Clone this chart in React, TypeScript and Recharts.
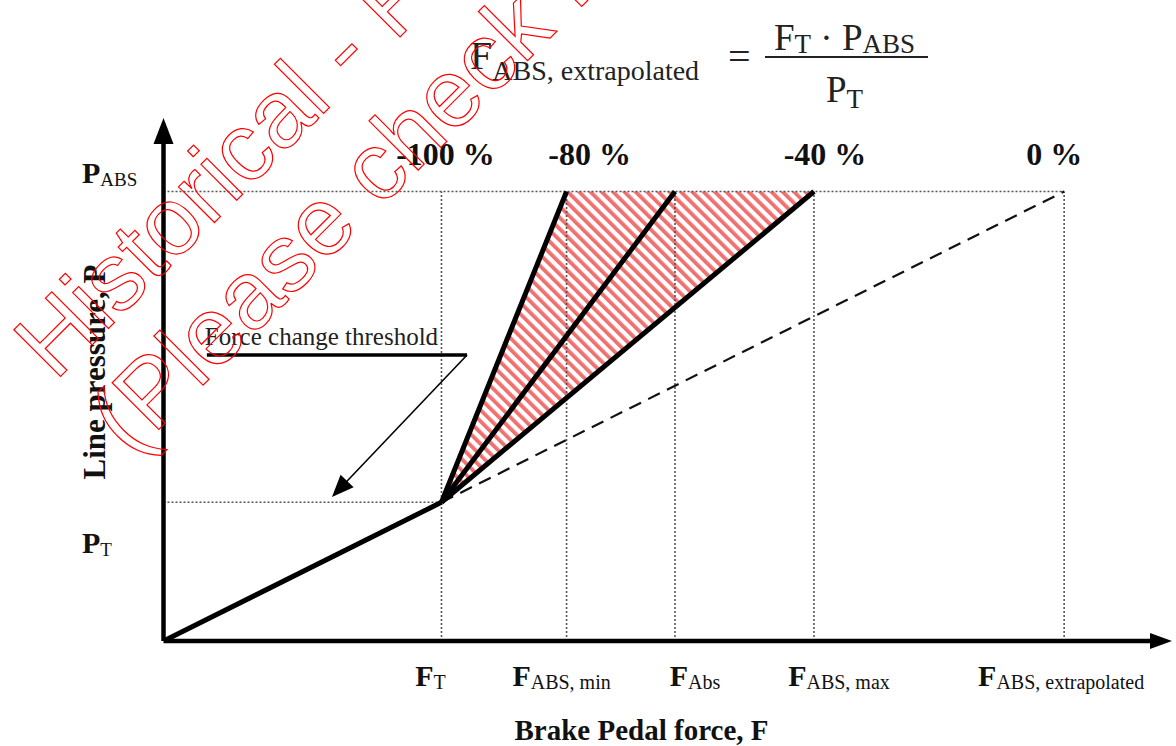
import React from 'react'
import { ComposedChart, Line, Area, XAxis, YAxis, ReferenceLine } from 'recharts'

const serif = "'Liberation Serif', 'Times New Roman', Times, serif"

// forces on the x axis (in units of F_T)
const forceSubs = ['T', 'ABS, min', 'Abs', 'ABS, max', 'ABS, extrapolated']
const forceValues = [1, 1.45, 1.84, 2.34, 3.24]
const pctLabels = ['-100 %', '-80 %', '', '-40 %', '0 %']

// pressures on the y axis (in units of P_T)
const pressureSubs = ['T', 'ABS']
const pressureValues = [1, 3.24]

// leader line of the "Force change threshold" note
const leaderPath = [
  { f: 0.156, p: 2.062 },
  { f: 1.092, p: 2.062 },
  { f: 0.606, p: 1.038 },
]

const X_MAX = 3.628
const Y_MAX = 3.77

// label nudges (px)
const xTickShift = [-11, -5, 20, 25, -3]
const yTickDy = [51, -8.5]
const pctShift = [4, 23, 0, 11, -10]

const [F_T, F_MIN, F_ABS, F_MAX, F_EXT] = forceValues
const [P_T, P_ABS] = pressureValues

const beforeThreshold = [{ f: 0, p: 0 }, { f: F_T, p: P_T }]
const fanLines = [F_MIN, F_ABS, F_MAX].map(f => [{ f: F_T, p: P_T }, { f, p: P_ABS }])
const extrapolated = [{ f: F_T, p: P_T }, { f: F_EXT, p: P_ABS }]

// band between the -80 % and -40 % lines
const lowerAt = (f: number) => P_T + ((f - F_T) * (P_ABS - P_T)) / (F_MAX - F_T)
const band = [
  { f: F_T, range: [P_T, P_T] },
  { f: F_MIN, range: [lowerAt(F_MIN), P_ABS] },
  { f: F_MAX, range: [P_ABS, P_ABS] },
]

function arrowShape(width: number, head: number, half: number) {
  return (props: any) => {
    const { x1, y1, x2, y2 } = props
    const dx = x2 - x1
    const dy = y2 - y1
    const len = Math.hypot(dx, dy) || 1
    const ux = dx / len
    const uy = dy / len
    const bx = x2 - ux * head
    const by = y2 - uy * head
    const pts = `${x2},${y2} ${bx - uy * half},${by + ux * half} ${bx + uy * half},${by - ux * half}`
    return (
      <g>
        <line x1={x1} y1={y1} x2={bx + ux * 2} y2={by + uy * 2} stroke="#000" strokeWidth={width} />
        <polygon points={pts} fill="#000" />
      </g>
    )
  }
}

const XTick = (props: any) => {
  const { x, y, index } = props
  return (
    <text x={x + xTickShift[index]} y={y + 45} textAnchor="middle" fontFamily={serif} fill="#111">
      <tspan fontSize={30} fontWeight="bold">F</tspan>
      <tspan fontSize={20} dy={3}>{forceSubs[index]}</tspan>
    </text>
  )
}

const YTick = (props: any) => {
  const { x, y, index } = props
  return (
    <text x={x - 81.5} y={y + yTickDy[index]} textAnchor="start" fontFamily={serif} fill="#111">
      <tspan fontSize={30} fontWeight="bold">P</tspan>
      <tspan fontSize={19} dy={3}>{pressureSubs[index]}</tspan>
    </text>
  )
}

const dotted = { stroke: '#555', strokeWidth: 1.6, strokeDasharray: '2 2' }

export default function App() {
  return (
    <div style={{ position: 'absolute', left: 0, top: 0, width: 1176, height: 746, background: '#fff' }}>
      <svg width={0} height={0} style={{ position: 'absolute' }}>
        <defs>
          <pattern id="hatch" patternUnits="userSpaceOnUse" width={8} height={8} patternTransform="rotate(-45)">
            <rect x={0} y={0} width={3.8} height={8} fill="#f07070" />
          </pattern>
        </defs>
      </svg>

      <ComposedChart width={1176} height={746} margin={{ top: 118, right: 4, bottom: 45, left: 63.5 }}>
        <XAxis
          type="number"
          dataKey="f"
          domain={[0, X_MAX]}
          ticks={forceValues}
          interval={0}
          allowDataOverflow
          axisLine={false}
          tickLine={false}
          tickSize={0}
          tickMargin={0}
          height={60}
          tick={<XTick />}
          label={(p: any) => (
            <text
              x={p.viewBox.x + 478}
              y={p.viewBox.y + 99}
              textAnchor="middle"
              fontFamily={serif}
              fontSize={29}
              fontWeight="bold"
              fill="#111"
            >
              Brake Pedal force, F
            </text>
          )}
        />
        <YAxis
          type="number"
          domain={[0, Y_MAX]}
          ticks={pressureValues}
          interval={0}
          allowDataOverflow
          axisLine={false}
          tickLine={false}
          tickSize={0}
          tickMargin={0}
          width={100}
          tick={<YTick />}
          label={() => (
            <text
              x={105}
              y={372}
              transform="rotate(-90 105 372)"
              textAnchor="middle"
              fontFamily={serif}
              fontSize={31}
              fontWeight="bold"
              fill="#111"
            >
              Line pressure, P
            </text>
          )}
        />

        <Area
          data={band}
          dataKey="range"
          type="linear"
          stroke="none"
          fill="url(#hatch)"
          fillOpacity={1}
          isAnimationActive={false}
          dot={false}
          activeDot={false}
        />

        <ReferenceLine segment={[{ x: 0, y: P_ABS }, { x: F_EXT, y: P_ABS }]} ifOverflow="visible" {...dotted} />
        <ReferenceLine segment={[{ x: 0, y: P_T }, { x: F_T, y: P_T }]} ifOverflow="visible" {...dotted} />
        {forceValues.map((f, i) => (
          <ReferenceLine
            key={'v' + i}
            segment={[{ x: f, y: 0 }, { x: f, y: P_ABS }]}
            ifOverflow="visible"
            {...dotted}
            label={(p: any) =>
              pctLabels[i] ? (
                <text
                  x={p.viewBox.x + pctShift[i]}
                  y={p.viewBox.y - 27}
                  textAnchor="middle"
                  fontFamily={serif}
                  fontSize={32}
                  fontWeight="bold"
                  fill="#111"
                >
                  {pctLabels[i]}
                </text>
              ) : null
            }
          />
        ))}

        <Line
          data={extrapolated}
          dataKey="p"
          type="linear"
          stroke="#111"
          strokeWidth={2.2}
          strokeDasharray="13 8"
          dot={false}
          activeDot={false}
          isAnimationActive={false}
        />
        <Line
          data={beforeThreshold}
          dataKey="p"
          type="linear"
          stroke="#000"
          strokeWidth={5}
          dot={false}
          activeDot={false}
          isAnimationActive={false}
        />
        {fanLines.map((d, i) => (
          <Line
            key={'fan' + i}
            data={d}
            dataKey="p"
            type="linear"
            stroke="#000"
            strokeWidth={5}
            dot={false}
            activeDot={false}
            isAnimationActive={false}
          />
        ))}

        {/* axes with arrow heads */}
        <ReferenceLine
          segment={[{ x: 0, y: 0 }, { x: 0, y: Y_MAX }]}
          ifOverflow="visible"
          shape={arrowShape(4.5, 26, 10)}
        />
        <ReferenceLine
          segment={[{ x: 0, y: 0 }, { x: X_MAX, y: 0 }]}
          ifOverflow="visible"
          shape={arrowShape(4.5, 22, 8)}
        />

        {/* force change threshold note */}
        <ReferenceLine
          segment={[{ x: leaderPath[0].f, y: leaderPath[0].p }, { x: leaderPath[1].f, y: leaderPath[1].p }]}
          ifOverflow="visible"
          stroke="#000"
          strokeWidth={3.5}
          label={(p: any) => (
            <text x={p.viewBox.x - 2} y={p.viewBox.y - 10} fontFamily={serif} fontSize={25} fill="#222">
              Force change threshold
            </text>
          )}
        />
        <ReferenceLine
          segment={[{ x: leaderPath[1].f, y: leaderPath[1].p }, { x: leaderPath[2].f, y: leaderPath[2].p }]}
          ifOverflow="visible"
          shape={arrowShape(1.6, 22, 9)}
        />
      </ComposedChart>

      {/* formula */}
      <svg width={1176} height={746} style={{ position: 'absolute', left: 0, top: 0, pointerEvents: 'none' }}>
        <g fontFamily={serif} fill="#222">
          <text x={470} y={69} fontSize={40}>
            F<tspan fontSize={28} dy={11}>ABS, extrapolated</tspan>
          </text>
          <text x={728} y={70} fontSize={40}>=</text>
          <text x={774} y={50} fontSize={37}>
            F<tspan fontSize={27} dy={3}>T</tspan>
            <tspan dy={-3}> · P</tspan>
            <tspan fontSize={27} dy={3}>ABS</tspan>
          </text>
          <line x1={765} y1={57} x2={928} y2={57} stroke="#222" strokeWidth={2} />
          <text x={826} y={102} fontSize={37}>
            P<tspan fontSize={27} dy={6}>T</tspan>
          </text>
        </g>

        {/* watermark */}
        <g
          transform="translate(55 382) rotate(-45)"
          fontFamily="'Liberation Sans', Arial, sans-serif"
          fontSize={96}
          fill="none"
          stroke="#ff0000"
          strokeWidth={1.2}
        >
          <text x={0} y={0}>Historical - For reference only</text>
          <text x={0} y={107}>(Please check for latest version)</text>
        </g>
      </svg>
    </div>
  )
}
